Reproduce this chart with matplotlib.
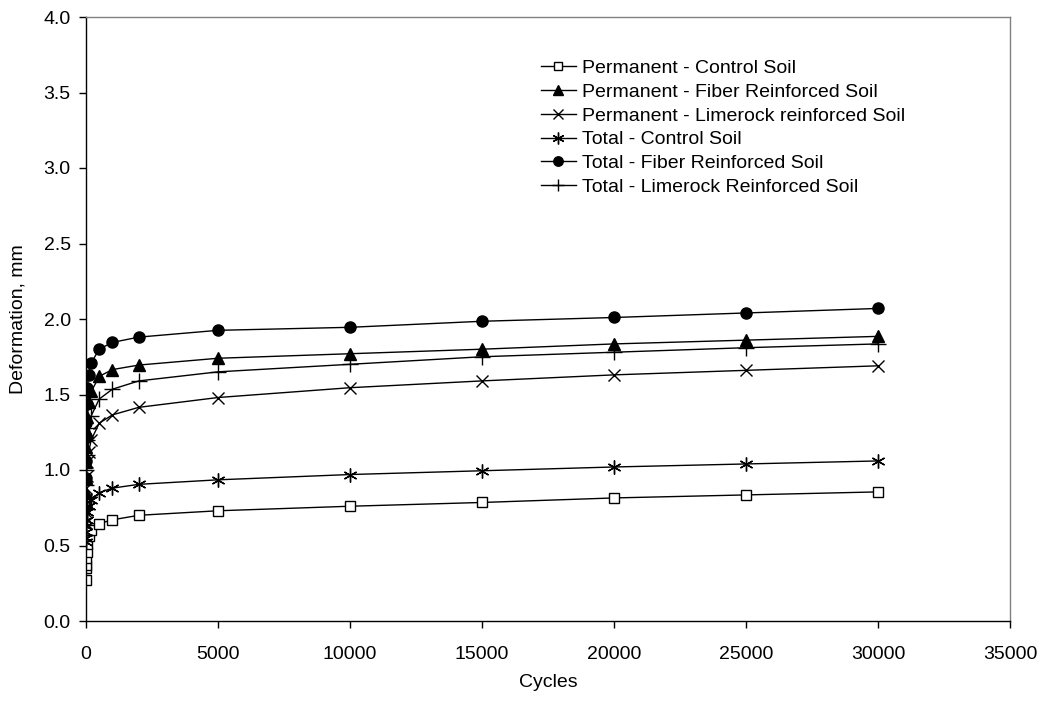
import matplotlib
matplotlib.use("Agg")
import matplotlib.pyplot as plt
from matplotlib.ticker import FormatStrFormatter

plt.rcParams['font.family'] = ['Liberation Sans', 'DejaVu Sans']

cycles = [1, 2, 5, 10, 20, 50, 100, 200, 500, 1000, 2000, 5000,
          10000, 15000, 20000, 25000, 30000]

perm_control = [0.27, 0.35, 0.37, 0.42, 0.46, 0.51, 0.56, 0.60, 0.645, 0.67,
                0.70, 0.73, 0.76, 0.785, 0.815, 0.835, 0.855]
perm_fiber = [0.85, 0.95, 1.05, 1.15, 1.25, 1.35, 1.45, 1.52, 1.62, 1.665,
              1.695, 1.74, 1.77, 1.80, 1.835, 1.86, 1.885]
perm_limerock = [0.65, 0.72, 0.80, 0.88, 0.96, 1.05, 1.12, 1.20, 1.31, 1.365,
                 1.415, 1.48, 1.545, 1.59, 1.63, 1.66, 1.69]
total_control = [0.52, 0.55, 0.59, 0.63, 0.67, 0.72, 0.76, 0.80, 0.85, 0.88,
                 0.905, 0.935, 0.97, 0.995, 1.02, 1.04, 1.06]
total_fiber = [0.95, 1.06, 1.22, 1.31, 1.44, 1.54, 1.63, 1.71, 1.80, 1.845,
               1.88, 1.925, 1.945, 1.985, 2.01, 2.04, 2.07]
total_limerock = [0.74, 0.82, 0.90, 1.00, 1.10, 1.20, 1.28, 1.36, 1.47, 1.535,
                  1.59, 1.65, 1.70, 1.75, 1.78, 1.81, 1.835]

series = [
    ('Permanent - Control Soil', perm_control,
     dict(marker='s', ms=7, mfc='white', mec='black', mew=1.0)),
    ('Permanent - Fiber Reinforced Soil', perm_fiber,
     dict(marker='^', ms=8, mfc='black', mec='black')),
    ('Permanent - Limerock reinforced Soil', perm_limerock,
     dict(marker='x', ms=9, mec='black', mew=1.0)),
    ('Total - Control Soil', total_control,
     dict(marker=(6, 2, 0), ms=10, mec='black', mew=1.0)),
    ('Total - Fiber Reinforced Soil', total_fiber,
     dict(marker='o', ms=8, mfc='black', mec='black')),
    ('Total - Limerock Reinforced Soil', total_limerock,
     dict(marker='+', ms=11, mec='black', mew=1.0)),
]

fig = plt.figure(figsize=(10.47, 7.02), dpi=100)
ax = fig.add_axes([86 / 1047, 1 - 621 / 702, (1010 - 86) / 1047, (621 - 17) / 702])

for label, vals, style in series:
    ax.plot(cycles, vals, color='black', lw=1.0, label=label, **style)

ax.set_xlim(0, 35000)
ax.set_ylim(0, 4.0)
ax.set_xticks(range(0, 35001, 5000))
ax.set_yticks([i * 0.5 for i in range(9)])
ax.yaxis.set_major_formatter(FormatStrFormatter('%.1f'))
ax.tick_params(labelsize=14, direction='out', length=5, width=1, colors='black')
ax.tick_params(axis='x', pad=13)
ax.tick_params(axis='y', pad=6)

ax.spines['left'].set_color('black')
ax.spines['bottom'].set_color('black')
ax.spines['top'].set_color('#808080')
ax.spines['right'].set_color('#808080')
for s in ax.spines.values():
    s.set_linewidth(1.0)

ax.set_xlabel('Cycles', fontsize=14, labelpad=8)
ax.set_ylabel('Deformation, mm', fontsize=14, labelpad=12)

ax.legend(loc='upper left', bbox_to_anchor=(0.4924, 0.93), frameon=False,
          fontsize=14, handlelength=1.8, handletextpad=0.3,
          labelspacing=0.32, borderpad=0, borderaxespad=0, markerscale=0.85)

fig.savefig('out.png', dpi=100)
